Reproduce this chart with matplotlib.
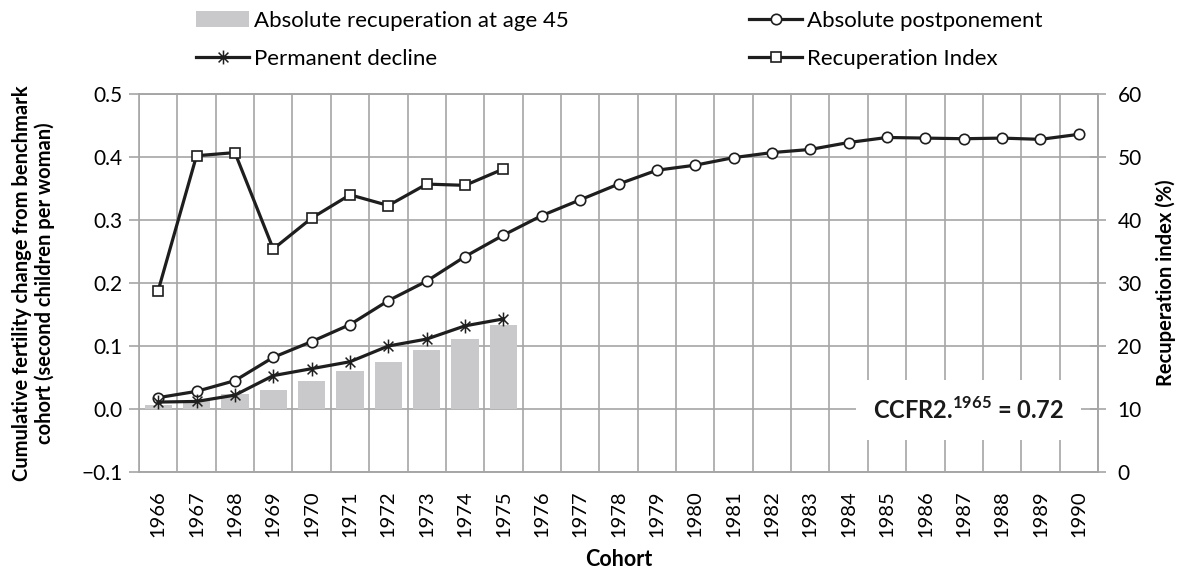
import numpy as np
import matplotlib
matplotlib.use("Agg")
import matplotlib.pyplot as plt
from matplotlib.lines import Line2D
from matplotlib.patches import Patch
from matplotlib.path import Path

plt.rcParams['font.family'] = ['Lato', 'DejaVu Sans']
plt.rcParams['mathtext.fontset'] = 'custom'
plt.rcParams['mathtext.rm'] = 'Lato'
plt.rcParams['mathtext.bf'] = 'Lato:bold'

# data
cohorts = [str(y) for y in range(1966, 1991)]
recup_abs = [0.006, 0.013, 0.024, 0.030, 0.044, 0.060, 0.074, 0.094, 0.111, 0.134]
perm_decline = [0.011, 0.012, 0.022, 0.053, 0.064, 0.075, 0.100, 0.111, 0.132, 0.143]
postponement = [0.018, 0.028, 0.045, 0.082, 0.107, 0.134, 0.172, 0.203, 0.242, 0.276,
                0.307, 0.332, 0.357, 0.379, 0.387, 0.399, 0.407, 0.412, 0.423, 0.431,
                0.430, 0.429, 0.430, 0.428, 0.436]
recup_index = [28.8, 50.2, 50.7, 35.4, 40.3, 44.0, 42.3, 45.7, 45.5, 48.1]

grid_col = "#A6A6A6"
line_col = "#1E1E1E"
bar_col = "#C9C9CB"

# excel-like star: vertical bar plus an X
d = 0.7071
star = Path([(0, -1), (0, 1), (-d, -d), (d, d), (-d, d), (d, -d)],
            [Path.MOVETO, Path.LINETO, Path.MOVETO, Path.LINETO, Path.MOVETO, Path.LINETO])

fig = plt.figure(figsize=(11.86, 5.70), dpi=100)
ax = fig.add_axes([139/1186, 1-472/570, (1098-139)/1186, (472-94)/570])
ax2 = ax.twinx()

x = np.arange(len(cohorts))
n = len(recup_abs)
ax.bar(x[:n], recup_abs, width=0.71, color=bar_col, zorder=2)
ax.plot(x, postponement, color=line_col, lw=2.3, marker="o", ms=7.5,
        mfc="white", mec=line_col, mew=1.2, zorder=3)
ax.plot(x[:n], perm_decline, color=line_col, lw=2.3, marker=star, ms=10,
        mec=line_col, mew=1.1, zorder=3)
ax2.plot(x[:n], recup_index, color=line_col, lw=2.3, marker="s", ms=7.5,
         mfc="white", mec=line_col, mew=1.2, zorder=3)

ax.set_xlim(-0.5, len(cohorts) - 0.5)
ax.set_ylim(-0.1, 0.5)
ax2.set_ylim(0, 60)

ax.set_yticks(np.arange(-0.1, 0.51, 0.1))
ax.set_yticklabels(["\u22120.1", "0.0", "0.1", "0.2", "0.3", "0.4", "0.5"])
ax2.set_yticks(range(0, 61, 10))
ax.set_xticks(x)
ax.set_xticklabels(cohorts, rotation=90)
ax.set_xticks(np.arange(-0.5, len(cohorts), 1), minor=True)

ax.grid(axis="y", which="major", color=grid_col, lw=1.2, zorder=0)
ax.grid(axis="x", which="minor", color=grid_col, lw=1.2, zorder=0)
ax.set_axisbelow(True)

ax.tick_params(axis="x", which="both", length=0, labelsize=14.5, pad=13)
ax.tick_params(axis="y", length=7, color=grid_col, width=1.2, labelsize=15, pad=5)
ax2.tick_params(axis="y", direction="inout", length=12, color=grid_col, width=1.2,
                labelsize=15, pad=8)
for a in (ax, ax2):
    for s in a.spines.values():
        s.set_color(grid_col)
        s.set_linewidth(1.2)
ax2.spines["left"].set_visible(False)

ax.set_ylabel("Cumulative fertility change from benchmark\ncohort (second children per woman)",
              fontsize=14.5, fontweight="bold", linespacing=1.15)
ax.yaxis.set_label_coords(-0.088, 0.5)
ax2.set_ylabel("Recuperation index (%)", fontsize=14.5, fontweight="bold", labelpad=10)
ax.set_xlabel("Cohort", fontsize=15.5, fontweight="bold")
ax.xaxis.set_label_coords(0.5, -0.203)

ax2.text(0.965, 0.165, r"CCFR2.$^{\mathbf{1965}}$ = 0.72", transform=ax2.transAxes,
         ha="right", va="center", fontsize=17, fontweight="bold", color="#1a1a1a",
         bbox=dict(facecolor="white", edgecolor="none", pad=12), zorder=5)

h_bar = Patch(facecolor=bar_col, edgecolor="none")
h_perm = Line2D([], [], color=line_col, lw=2.3, marker=star, ms=10, mec=line_col, mew=1.1)
h_post = Line2D([], [], color=line_col, lw=2.3, marker="o", ms=7.5, mfc="white", mec=line_col, mew=1.2)
h_ri = Line2D([], [], color=line_col, lw=2.3, marker="s", ms=7.5, mfc="white", mec=line_col, mew=1.2)

leg_kw = dict(frameon=False, fontsize=16, handlelength=2.4, handletextpad=0.23,
              labelspacing=0.8, borderaxespad=0, borderpad=0, loc="upper left")
fig.legend([h_bar, h_perm], ["Absolute recuperation at age 45", "Permanent decline"],
           bbox_to_anchor=(196/1186, 1-11/570), **leg_kw)
fig.legend([h_post, h_ri], ["Absolute postponement", "Recuperation Index"],
           bbox_to_anchor=(749/1186, 1-11/570), **leg_kw)

fig.savefig("out.png", dpi=100)
